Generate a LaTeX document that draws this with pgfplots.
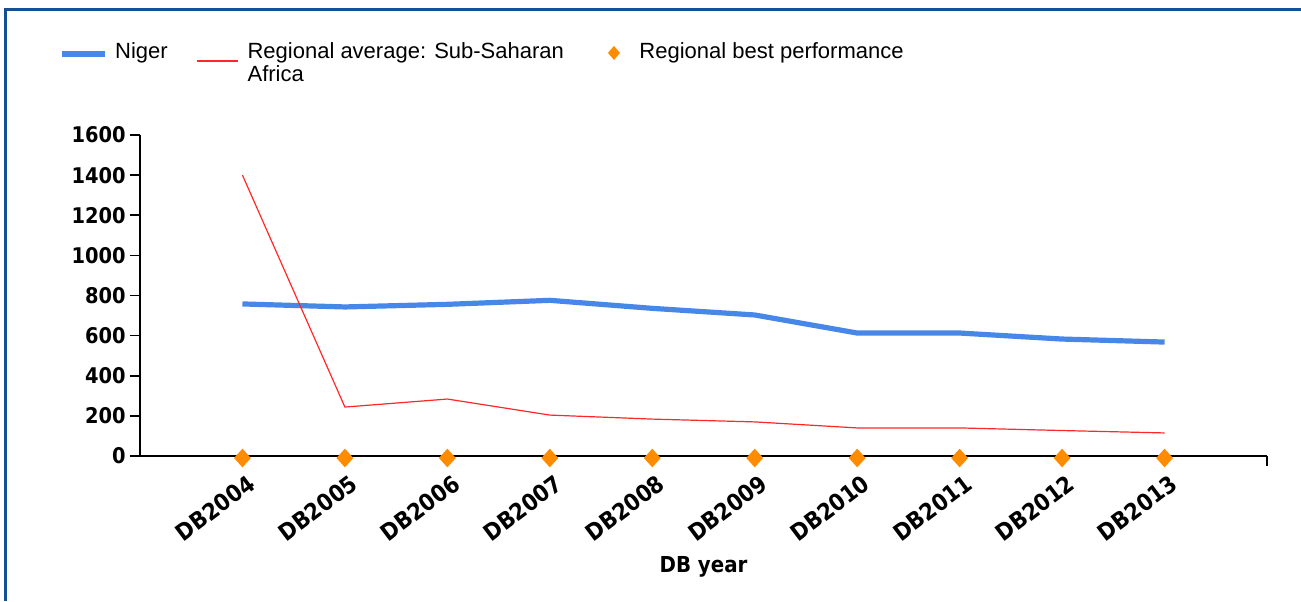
\documentclass[border=0pt]{standalone}
\usepackage{pgfplots}
\pgfplotsset{compat=1.18}
\usepackage{fontspec}
\setmainfont{Liberation Sans}
\newfontfamily\tickfont{DejaVu Sans Condensed}
\definecolor{nigerblue}{RGB}{70,135,232}
\definecolor{avgred}{RGB}{255,40,40}
\definecolor{bestorange}{RGB}{255,140,0}
\definecolor{frameblue}{RGB}{20,80,150}
\begin{document}
\begin{tikzpicture}
\path[use as bounding box] (0pt,0pt) rectangle (650.5pt,-300.5pt);
\draw[frameblue, line width=1.3pt] (2.6pt,-300.5pt) -- (2.6pt,-4.6pt) -- (650.5pt,-4.6pt);
\begin{axis}[
  at={(70pt,-228pt)}, anchor=south west,
  scale only axis, width=563.5pt, height=160.5pt,
  xmin=-1, xmax=10, ymin=0, ymax=1600,
  axis lines=left, axis line style={-, black, line width=0.8pt},
  axis on top,
  tick style={black, line width=0.8pt}, major tick length=5pt, tick align=outside,
  xtick={0,1,2,3,4,5,6,7,8,9},
  xticklabels={DB2004,DB2005,DB2006,DB2007,DB2008,DB2009,DB2010,DB2011,DB2012,DB2013},
  extra x ticks={10}, extra x tick labels={},
  ytick={0,200,...,1600},
  /pgf/number format/assume math mode=true,
  /pgf/number format/set thousands separator={},
  yticklabel style={font=\tickfont\bfseries\fontsize{10.8}{12}\selectfont, inner sep=2pt},
  xticklabel style={font=\tickfont\bfseries\fontsize{11.6}{12}\selectfont, rotate=37, anchor=north east, inner sep=1pt, xshift=0.5pt, yshift=-3pt},
  xlabel={DB year},
  xlabel style={font=\tickfont\bfseries\fontsize{11}{12}\selectfont, at={(axis description cs:0.5,0)}, anchor=center, yshift=-55.5pt},
  legend columns=3,
  legend cell align=left,
  legend style={at={(axis description cs:-0.0776,1.313)}, anchor=north west, draw=none, fill=none,
    font=\fontsize{11}{11.5}\selectfont, nodes={align=left, inner sep=2pt},
    /tikz/every odd column/.append style={column sep=2pt},
    /tikz/every even column/.append style={column sep=11.75pt}},
]
\addplot[bestorange, line width=1.3pt, yshift=-1pt, mark=diamond*, mark size=3.7pt, mark options={xscale=1.2}, forget plot]
  coordinates {(0,0) (1,0) (2,0) (3,0) (4,0) (5,0) (6,0) (7,0) (8,0) (9,0)};
\addplot[nigerblue, line width=2.6pt, line join=round,
  legend image code/.code={\draw[nigerblue, line width=2.6pt] (0pt,5pt) -- (21.5pt,5pt);}]
  coordinates {(0,758) (1,743) (2,756) (3,776) (4,736) (5,703) (6,613) (7,613) (8,583) (9,568)};
\addlegendentry{Niger\\\mbox{}}
\addplot[avgred, line width=0.6pt,
  legend image code/.code={\draw[avgred, line width=1.4pt] (0pt,1.5pt) -- (20.5pt,1.5pt);\path[draw=none] (0pt,0pt) -- (21.5pt,0pt);}]
  coordinates {(0,1400) (1,244) (2,284) (3,204) (4,184) (5,170) (6,140) (7,140) (8,127) (9,115)};
\addlegendentry{Regional average: Sub-Saharan\\Africa}
\addlegendimage{legend image code/.code={\path[draw=none, fill=bestorange] (11.25pt,9pt) -- (14.25pt,5.5pt) -- (11.25pt,2pt) -- (8.25pt,5.5pt) -- cycle; \path[draw=none] (0pt,0pt) -- (20pt,0pt);}}
\addlegendentry{Regional best performance\\\mbox{}}
\end{axis}
\end{tikzpicture}
\end{document}
